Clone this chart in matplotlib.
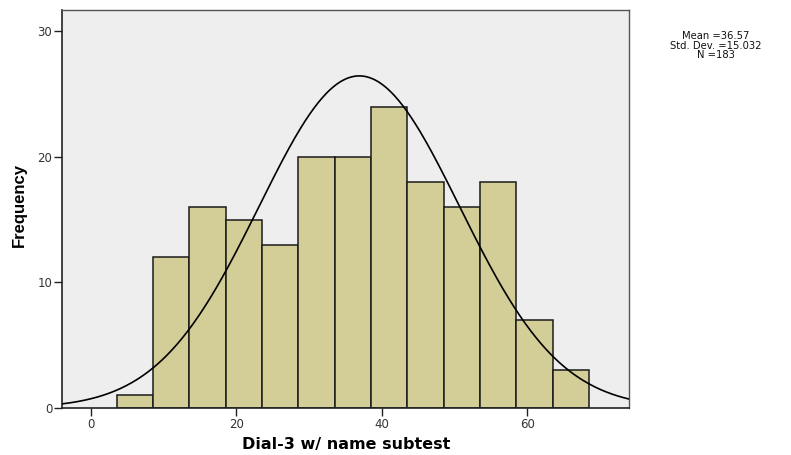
import matplotlib
matplotlib.use('Agg')
import matplotlib.pyplot as plt
import numpy as np

# histogram bins (width 5) and counts
bin_edges = [3.5, 8.5, 13.5, 18.5, 23.5, 28.5, 33.5, 38.5, 43.5, 48.5, 53.5, 58.5, 63.5, 68.5]
counts = [1, 12, 16, 15, 13, 20, 20, 24, 18, 16, 18, 7, 3]

stat_mean = 36.57
stat_sd = 15.032
stat_n = 183

# normal curve as drawn in the picture
curve_mean = 36.9
curve_sd = 13.8
bin_width = 5

x_ticks = [0, 20, 40, 60]
y_ticks = [0, 10, 20, 30]

plt.rcParams['font.family'] = ['DejaVu Sans']

fig = plt.figure(figsize=(7.91, 4.55), dpi=100)
ax = fig.add_axes([62 / 791, 1 - 408 / 455, (629 - 62) / 791, (408 - 10) / 455])
ax.set_facecolor('#eeeeee')

lefts = bin_edges[:-1]
widths = np.diff(bin_edges)
ax.bar(lefts, counts, width=widths, align='edge', color='#d3ce97',
       edgecolor='#1a1a1a', linewidth=1.1, zorder=2)

xs = np.linspace(-4, 74, 400)
ys = stat_n * bin_width / (curve_sd * np.sqrt(2 * np.pi)) * np.exp(-0.5 * ((xs - curve_mean) / curve_sd) ** 2)
ax.plot(xs, ys, color='black', linewidth=1.2, zorder=3)

ax.set_xlim(-4, 74)
ax.set_ylim(0, 31.7)
ax.set_xticks(x_ticks)
ax.set_yticks(y_ticks)
ax.tick_params(direction='out', length=6, width=1, labelsize=8.5,
               color='#222222', labelcolor='#333333')
ax.tick_params(axis='x', pad=1)
ax.tick_params(axis='y', pad=1)
for side in ['left', 'bottom']:
    ax.spines[side].set_linewidth(1.2)
    ax.spines[side].set_color('#222222')
for side in ['top', 'right']:
    ax.spines[side].set_linewidth(1.0)
    ax.spines[side].set_color('#555555')

# axis titles placed like the SPSS output
fig.text(346 / 791, 1 - 445 / 455, 'Dial-3 w/ name subtest', ha='center', va='center',
         fontsize=11.5, fontweight='bold')
fig.text(19 / 791, 1 - 205 / 455, 'Frequency', ha='center', va='center', rotation=90,
         fontsize=12, fontweight='bold', family=['Liberation Sans', 'DejaVu Sans'])

stats_text = 'Mean =%.2f\nStd. Dev. =%.3f\nN =%d' % (stat_mean, stat_sd, stat_n)
fig.text(716 / 791, 1 - 31 / 455, stats_text, ha='center', va='top',
         fontsize=7.2, linespacing=0.95, color='#111111')

fig.savefig('out.png', dpi=100)
